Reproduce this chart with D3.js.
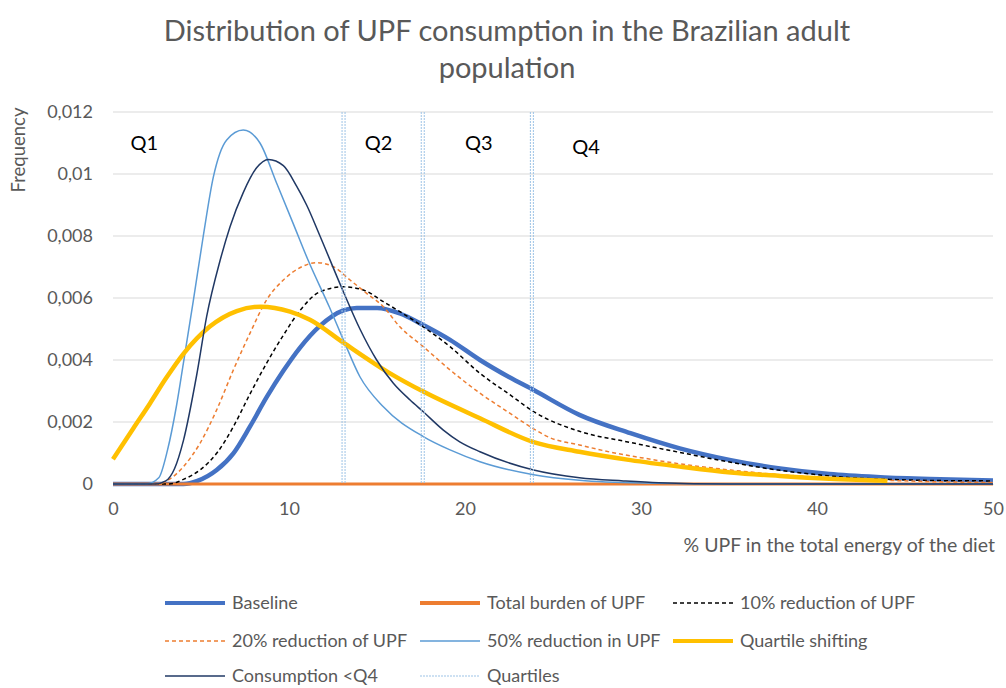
<!DOCTYPE html>
<html>
<head>
<meta charset="utf-8">
<script src="https://cdn.jsdelivr.net/npm/d3@7"></script>
<style>
  body { margin: 0; background: #fff; }
  text { font-family: Lato, "Open Sans", sans-serif; }
</style>
</head>
<body>
<svg id="chart" width="1006" height="688"></svg>
<script>
// values, [x = % UPF, y = frequency]
const baseline = [[0,0],[4.0,0],[4.8,0.0001],[5.89,0.00045],[6.84,0.00099],[7.78,0.00185],[8.73,0.0028],[9.68,0.00365],[10.63,0.0044],[11.76,0.0051],[13.09,0.0056],[13.85,0.00568],[15.0,0.00568],[16.3,0.0055],[17.63,0.00513],[19.15,0.00465],[20.85,0.004],[22.5,0.00345],[23.9,0.00303],[26.5,0.00223],[29.4,0.00164],[32.2,0.00115],[35.1,0.00077],[37.9,0.0005],[40.7,0.00032],[43.6,0.00022],[46.4,0.00016],[50,0.00011]];
const totalBurden = [[0,0],[50,0]];
const reduction10 = [[0,0],[3.2,0],[4.0,0.00015],[4.94,0.00045],[5.89,0.00099],[6.84,0.00185],[7.78,0.0029],[8.73,0.0039],[9.68,0.0048],[10.63,0.0056],[11.76,0.0062],[13.09,0.00636],[14.22,0.00626],[15.36,0.00588],[16.3,0.00556],[17.63,0.00507],[19.15,0.00443],[20.85,0.00357],[22.5,0.0029],[24.0,0.0023],[26.5,0.0017],[29.4,0.00134],[32.2,0.00102],[35.1,0.0007],[37.9,0.00044],[39.7,0.00032],[42,0.0002],[44,0.00015],[47,0.00011],[50,0.0001]];
const reduction20 = [[0,0],[2.5,0],[3.2,0.00015],[4.0,0.00056],[4.94,0.00131],[5.89,0.00239],[6.84,0.00368],[7.78,0.00486],[8.73,0.00594],[9.68,0.00658],[10.7,0.007],[11.57,0.00714],[12.52,0.00701],[13.47,0.00658],[14.41,0.00615],[15.36,0.00572],[16.3,0.00507],[17.63,0.00443],[19.15,0.00368],[20.85,0.00293],[22.5,0.0023],[23.9,0.00178],[24.8,0.0015],[26.5,0.00126],[28.5,0.001],[30,0.00085],[32.2,0.00065],[35.1,0.00045],[37.9,0.0003],[40.7,0.0002],[44,0.00012],[47,0.00007],[50,0.00005]];
const reduction50 = [[0,0],[1.9,0],[2.6,0.0002],[3.1,0.0011],[3.6,0.0025],[4.0,0.0039],[4.56,0.0059],[5.13,0.008],[5.7,0.0099],[6.46,0.0111],[7.4,0.01142],[8.35,0.011],[9.3,0.0097],[10.24,0.0084],[11.1,0.0072],[12.3,0.0057],[13.09,0.00465],[14.03,0.00346],[15.36,0.00249],[17.63,0.00153],[19.15,0.0011],[20.85,0.00072],[23.9,0.0003],[26.5,0.00012],[30,0.00003],[35,0],[50,0]];
const quartileShift = [[0,0.0008],[1.16,0.0018],[2.1,0.0026],[3.0,0.0034],[4.0,0.0042],[5.5,0.00508],[7.03,0.00558],[8.4,0.00572],[10.06,0.00556],[11.19,0.0053],[13.09,0.00456],[15.74,0.00357],[17.63,0.00298],[20.85,0.00212],[23.9,0.00135],[26.5,0.00104],[29.4,0.00077],[32.2,0.00056],[35.1,0.00037],[37.9,0.00026],[40.7,0.00017],[43.6,0.00011],[44,0.0001]];
const belowQ4 = [[0,0],[2.4,0],[3.0,0.0001],[3.5,0.0005],[4.0,0.0014],[4.75,0.0035],[5.32,0.0054],[6.08,0.0072],[6.65,0.0083],[7.4,0.0094],[8.16,0.0102],[8.83,0.01047],[9.68,0.01027],[10.44,0.0096],[11.0,0.009],[11.76,0.008],[13.09,0.0062],[14.03,0.005],[14.98,0.004],[15.93,0.00325],[16.88,0.00271],[17.63,0.00233],[18.77,0.00174],[19.7,0.00136],[20.85,0.00104],[23.9,0.00045],[26.5,0.0002],[29,0.0001],[31,0.00004],[35,0],[50,0]];
const quartiles = [13.1, 17.6, 23.8];
const quartileLabels = ["Q1", "Q2", "Q3", "Q4"];
const quartileLabelX = [1.0, 14.3, 20.0, 26.1];
const xTicks = [0, 10, 20, 30, 40, 50];
const yTicks = [0, 0.002, 0.004, 0.006, 0.008, 0.01, 0.012];

const series = [
  {name: "Baseline", data: baseline, color: "#4472C4", width: 4.5, dash: null},
  {name: "Total burden of UPF", data: totalBurden, color: "#ED7D31", width: 3, dash: null},
  {name: "10% reduction of UPF", data: reduction10, color: "#000000", width: 1.5, dash: "4,3"},
  {name: "20% reduction of UPF", data: reduction20, color: "#ED7D31", width: 1.5, dash: "4,3"},
  {name: "50% reduction in UPF", data: reduction50, color: "#5B9BD5", width: 1.5, dash: null},
  {name: "Quartile shifting", data: quartileShift, color: "#FFC000", width: 4.5, dash: null},
  {name: "Consumption <Q4", data: belowQ4, color: "#203864", width: 1.5, dash: null},
  {name: "Quartiles", data: null, color: "#9DC3E6", width: 1, dash: "2,1"}
];

const svg = d3.select("#chart");
const margin = {left: 113, right: 13, top: 112, bottom: 204};
const W = 1006, H = 688;

svg.append("rect").attr("width", W).attr("height", H).attr("fill", "#fff");

let x = d3.scaleLinear().domain([0, 50]).range([margin.left, W - margin.right]);
let y = d3.scaleLinear().domain([0, 0.012]).range([H - margin.bottom, margin.top]);
let locale = d3.formatLocale({decimal: ",", thousands: ".", grouping: [3], currency: ["", ""]});
let fmt = locale.format(".3~f");

// title
svg.append("text")
  .attr("x", 507).attr("y", 41)
  .attr("text-anchor", "middle")
  .attr("font-size", 29).attr("fill", "#595959")
  .text("Distribution of UPF consumption in the Brazilian adult");
svg.append("text")
  .attr("x", 507).attr("y", 78)
  .attr("text-anchor", "middle")
  .attr("font-size", 29).attr("fill", "#595959")
  .text("population");

// gridlines
svg.append("g")
  .selectAll("line")
  .data(yTicks.filter(d => d > 0))
  .enter().append("line")
  .attr("x1", x(0)).attr("x2", x(50))
  .attr("y1", d => y(d)).attr("y2", d => y(d))
  .attr("stroke", "#D9D9D9").attr("stroke-width", 1);

// axes
let yAxis = svg.append("g")
  .attr("transform", "translate(" + (x(0) - 6) + ",0)")
  .call(d3.axisLeft(y).tickValues(yTicks).tickFormat(fmt).tickSize(0).tickPadding(14));
yAxis.select(".domain").remove();
yAxis.selectAll("text").attr("font-size", 18).attr("fill", "#595959")
  .attr("font-family", "Lato, 'Open Sans', sans-serif");

let xAxis = svg.append("g")
  .attr("transform", "translate(0," + y(0) + ")")
  .call(d3.axisBottom(x).tickValues(xTicks).tickFormat(d3.format("d")).tickSize(0).tickPadding(18));
xAxis.select(".domain").attr("stroke", "#D9D9D9");
xAxis.selectAll("text").attr("font-size", 18).attr("fill", "#595959")
  .attr("font-family", "Lato, 'Open Sans', sans-serif");

svg.append("text")
  .attr("x", 995).attr("y", 552)
  .attr("text-anchor", "end")
  .attr("font-size", 19.5).attr("fill", "#595959")
  .text("% UPF in the total energy of the diet");

svg.append("text")
  .attr("transform", "translate(25,150) rotate(-90)")
  .attr("text-anchor", "middle")
  .attr("font-size", 18.5).attr("fill", "#595959")
  .text("Frequency");

// curves
let line = d3.line()
  .x(d => x(d[0]))
  .y(d => y(d[1]))
  .curve(d3.curveMonotoneX);

let layers = svg.append("g").attr("id", "layers");
series.filter(s => s.data).forEach(s => {
  layers.append("path")
    .datum(s.data)
    .attr("d", line)
    .attr("fill", "none")
    .attr("stroke", s.color)
    .attr("stroke-width", s.width)
    .attr("stroke-dasharray", s.dash)
    .attr("stroke-linejoin", "round");
});

// quartile lines (drawn doubled like the original)
let q = series[series.length - 1];
quartiles.forEach(v => {
  [-1.5, 1.5].forEach(off => {
    layers.append("line")
      .attr("x1", x(v) + off).attr("x2", x(v) + off)
      .attr("y1", y(0.012)).attr("y2", y(0))
      .attr("stroke", q.color).attr("stroke-width", q.width)
      .attr("stroke-dasharray", q.dash);
  });
});

// quartile labels
svg.append("g")
  .selectAll("text")
  .data(quartileLabels)
  .enter().append("text")
  .attr("x", (d, i) => x(quartileLabelX[i]))
  .attr("y", (d, i) => i === 3 ? 154 : 150)
  .attr("font-size", 20).attr("fill", "#000")
  .text(d => d);

// legend
let legend = svg.append("g").attr("id", "legend");
let colX = [165, 420, 673];
let rowY = [603, 641, 676];
series.forEach((s, i) => {
  let cx = colX[i % 3], cy = rowY[Math.floor(i / 3)];
  let g = legend.append("g");
  g.append("line")
    .attr("x1", cx).attr("x2", cx + 60)
    .attr("y1", cy).attr("y2", cy)
    .attr("stroke", s.color)
    .attr("stroke-width", s.width > 2 ? 4 : (s.name === "Quartiles" ? 1 : 1.5))
    .attr("stroke-dasharray", s.dash);
  g.append("text")
    .attr("x", cx + 67).attr("y", cy)
    .attr("dy", "0.35em")
    .attr("font-size", 18).attr("fill", "#595959")
    .text(s.name);
});
</script>
</body>
</html>
